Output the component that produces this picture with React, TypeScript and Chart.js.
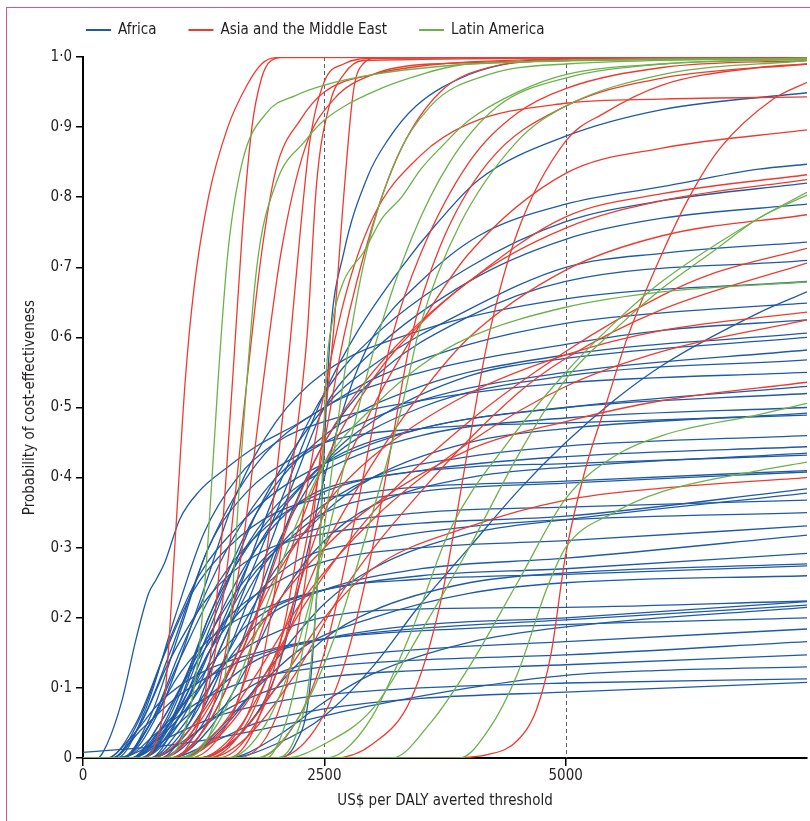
import React, { useEffect, useRef } from "react";
import { Chart, registerables } from "chart.js";
Chart.register(...registerables);

const FONT = "'Liberation Sans Narrow', 'DejaVu Sans Condensed', 'Noto Sans', sans-serif";

const xTicks = [0, 2500, 5000];
const xMax = 7500;
const referenceLines = [2500, 5000];
const legendLabels = ["Africa", "Asia and the Middle East", "Latin America"];
const regionColors = ["#1f5aa6", "#ee3b2f", "#6cb24a"];
const xTitle = "US$ per DALY averted threshold";
const yTitle = "Probability of cost-effectiveness";

// Africa curves: [threshold, probability]
const africa: number[][][] = [
  [[2000,0],[2200,0.02],[2350,0.1],[2450,0.3],[2560,0.6],[2700,0.72],[2950,0.83],[3150,0.88],[3450,0.93],[4000,0.975],[4500,0.993],[5000,0.998],[7500,1.0]],
  [[300,0],[800,0.03],[1300,0.12],[1700,0.25],[2000,0.35],[2500,0.52],[2850,0.61],[3300,0.7],[3650,0.76],[4100,0.825],[5000,0.887],[6000,0.925],[7500,0.949]],
  [[1200,0],[1600,0.03],[2000,0.12],[2300,0.28],[2500,0.4],[2750,0.52],[3000,0.6],[3500,0.68],[4100,0.745],[5000,0.79],[6000,0.815],[7000,0.84],[7500,0.847]],
  [[600,0],[1000,0.05],[1500,0.2],[2000,0.38],[2500,0.52],[3000,0.6],[4000,0.7],[5000,0.765],[6000,0.795],[7500,0.82]],
  [[700,0],[1200,0.06],[1700,0.22],[2200,0.4],[2500,0.5],[3000,0.58],[4000,0.68],[5000,0.74],[6000,0.77],[7500,0.79]],
  [[500,0],[900,0.05],[1300,0.18],[1800,0.35],[2500,0.5],[3000,0.56],[4000,0.64],[5000,0.7],[6000,0.72],[7500,0.736]],
  [[1500,0],[2000,0.02],[2500,0.06],[3000,0.13],[3500,0.22],[4000,0.3],[4500,0.38],[5000,0.45],[5500,0.51],[6000,0.56],[7000,0.635],[7500,0.665]],
  [[150,0],[250,0.02],[400,0.08],[550,0.17],[680,0.235],[760,0.255],[850,0.28],[1000,0.34],[1200,0.38],[1500,0.415],[1800,0.445],[2200,0.475],[2500,0.5],[3000,0.54],[4000,0.59],[5000,0.62],[6000,0.635],[7500,0.649]],
  [[300,0],[600,0.05],[900,0.15],[1300,0.3],[1800,0.42],[2500,0.5],[3500,0.55],[5000,0.59],[6000,0.61],[7500,0.625]],
  [[500,0],[900,0.06],[1300,0.2],[1800,0.35],[2500,0.46],[3500,0.53],[5000,0.575],[7500,0.606]],
  [[800,0],[1200,0.04],[1600,0.15],[2000,0.3],[2500,0.42],[3000,0.48],[4000,0.545],[5000,0.57],[7500,0.6]],
  [[400,0],[700,0.05],[1000,0.15],[1500,0.3],[2000,0.4],[2500,0.45],[3500,0.51],[5000,0.55],[7500,0.582]],
  [[600,0],[1000,0.06],[1400,0.18],[1800,0.3],[2500,0.42],[3500,0.5],[5000,0.545],[7500,0.568]],
  [[300,0],[600,0.06],[900,0.17],[1200,0.26],[1600,0.33],[2000,0.38],[2500,0.42],[3500,0.47],[5000,0.5],[7500,0.53]],
  [[500,0],[800,0.04],[1200,0.16],[1600,0.28],[2000,0.36],[2500,0.41],[3500,0.46],[5000,0.485],[7500,0.5]],
  [[700,0],[1100,0.05],[1500,0.15],[2000,0.27],[2500,0.35],[3000,0.4],[4000,0.45],[5000,0.47],[7500,0.492]],
  [[400,0],[700,0.06],[1000,0.18],[1300,0.3],[1700,0.38],[2200,0.43],[2500,0.45],[3500,0.47],[5000,0.478],[7500,0.489]],
  [[400,0],[700,0.05],[1000,0.14],[1400,0.25],[1900,0.33],[2500,0.38],[3500,0.41],[5000,0.43],[7500,0.444]],
  [[900,0],[1300,0.04],[1700,0.13],[2100,0.24],[2500,0.31],[3000,0.36],[4000,0.4],[5000,0.415],[7500,0.435]],
  [[600,0],[1000,0.07],[1400,0.2],[1800,0.3],[2300,0.37],[3000,0.4],[4000,0.415],[5000,0.42],[7500,0.432]],
  [[600,0],[900,0.05],[1300,0.15],[1700,0.25],[2200,0.32],[2500,0.35],[3500,0.38],[5000,0.392],[7500,0.408]],
  [[300,0],[600,0.05],[900,0.14],[1300,0.23],[1800,0.29],[2500,0.32],[3500,0.335],[5000,0.345],[7500,0.384]],
  [[1000,0],[1500,0.05],[2000,0.14],[2500,0.22],[3000,0.27],[4000,0.32],[5000,0.34],[7500,0.378]],
  [[500,0],[800,0.05],[1200,0.15],[1600,0.24],[2000,0.3],[2500,0.33],[3500,0.35],[5000,0.358],[7500,0.368]],
  [[500,0],[800,0.05],[1100,0.12],[1500,0.2],[2000,0.25],[2500,0.28],[3500,0.3],[5000,0.31],[7500,0.331]],
  [[700,0],[1000,0.04],[1400,0.12],[1800,0.19],[2500,0.24],[3500,0.27],[5000,0.285],[7500,0.318]],
  [[400,0],[700,0.05],[1000,0.12],[1400,0.18],[2000,0.22],[2500,0.24],[3500,0.26],[5000,0.27],[7500,0.292]],
  [[1200,0],[1600,0.03],[2000,0.1],[2500,0.17],[3000,0.21],[4000,0.25],[5000,0.264],[7500,0.277]],
  [[500,0],[900,0.05],[1300,0.13],[1800,0.2],[2500,0.24],[3500,0.255],[5000,0.262],[7500,0.274]],
  [[600,0],[1000,0.05],[1400,0.1],[1800,0.14],[2500,0.17],[3500,0.19],[5000,0.2],[7500,0.223]],
  [[300,0],[600,0.04],[1000,0.09],[1500,0.13],[2000,0.155],[2500,0.17],[3500,0.185],[5000,0.197],[7500,0.218]],
  [[1500,0],[2000,0.03],[2500,0.08],[3000,0.12],[4000,0.165],[5000,0.187],[7500,0.215]],
  [[800,0],[1200,0.04],[1600,0.09],[2000,0.12],[2500,0.14],[3500,0.155],[5000,0.166],[7500,0.184]],
  [[400,0],[800,0.04],[1200,0.08],[1700,0.11],[2500,0.13],[3500,0.14],[5000,0.147],[7500,0.166]],
  [[700,0],[1100,0.03],[1500,0.07],[2000,0.1],[2500,0.115],[3500,0.125],[5000,0.133],[7500,0.147]],
  [[0,0.008],[1000,0.02],[2000,0.045],[3000,0.075],[4000,0.1],[5000,0.118],[6000,0.125],[7500,0.13]],
  [[500,0],[900,0.03],[1400,0.06],[2000,0.08],[2500,0.09],[3500,0.1],[5000,0.107],[7500,0.113]],
  [[900,0],[1300,0.02],[1800,0.05],[2500,0.07],[3500,0.085],[5000,0.094],[7500,0.108]],
  [[350,0],[650,0.07],[950,0.2],[1250,0.32],[1600,0.4],[2000,0.45],[2500,0.48],[3500,0.51],[5000,0.535],[7500,0.55]],
  [[600,0],[1000,0.08],[1300,0.2],[1700,0.3],[2200,0.38],[2500,0.42],[3500,0.47],[5000,0.5],[7500,0.52]],
  [[800,0],[1100,0.05],[1400,0.15],[1800,0.26],[2300,0.34],[3000,0.4],[4000,0.43],[5000,0.445],[7500,0.46]],
  [[700,0],[1000,0.06],[1300,0.15],[1700,0.22],[2200,0.28],[3000,0.31],[4000,0.33],[5000,0.34],[7500,0.35]],
  [[500,0],[800,0.04],[1200,0.1],[1600,0.15],[2200,0.19],[3000,0.21],[5000,0.215],[7500,0.224]],
  [[1000,0],[1400,0.04],[1800,0.1],[2300,0.16],[3000,0.2],[4000,0.235],[5000,0.25],[7500,0.26]],
  [[400,0],[800,0.07],[1200,0.22],[1600,0.38],[2000,0.48],[2500,0.55],[3500,0.61],[5000,0.655],[7500,0.68]],
  [[900,0],[1300,0.05],[1700,0.17],[2100,0.33],[2500,0.45],[3000,0.54],[4000,0.63],[5000,0.68],[7500,0.71]],
  [[250,0],[550,0.05],[850,0.15],[1150,0.24],[1500,0.3],[2000,0.35],[3000,0.38],[5000,0.395],[7500,0.41]],
  [[250,0],[500,0.03],[800,0.08],[1200,0.12],[1800,0.15],[2500,0.17],[4000,0.185],[7500,0.2]],
];

// Asia and the Middle East curves
const asia: number[][][] = [
  [[600,0],[750,0.02],[850,0.09],[950,0.3],[1060,0.54],[1150,0.67],[1300,0.8],[1500,0.9],[1700,0.96],[1850,0.99],[2000,0.999],[7500,1]],
  [[900,0],[1100,0.02],[1250,0.08],[1400,0.25],[1550,0.54],[1650,0.75],[1750,0.9],[1850,0.97],[1950,0.995],[2100,1],[7500,1]],
  [[800,0],[1100,0.03],[1300,0.1],[1500,0.28],[1700,0.54],[1850,0.72],[2000,0.84],[2250,0.91],[2500,0.95],[3000,0.975],[3700,0.99],[5000,0.997],[7500,1]],
  [[900,0],[1200,0.03],[1400,0.1],[1650,0.3],[1870,0.54],[2050,0.72],[2300,0.87],[2600,0.94],[3000,0.975],[3600,0.99],[7500,0.998]],
  [[1000,0],[1300,0.02],[1600,0.08],[1800,0.2],[2000,0.4],[2150,0.6],[2250,0.75],[2350,0.88],[2500,0.965],[2700,0.99],[3000,0.998],[7500,1]],
  [[1200,0],[1500,0.02],[1800,0.1],[2000,0.25],[2200,0.45],[2320,0.6],[2420,0.82],[2550,0.93],[2700,0.975],[2900,0.995],[7500,1]],
  [[1600,0],[1900,0.03],[2100,0.1],[2300,0.25],[2450,0.42],[2590,0.6],[2700,0.8],[2800,0.95],[2900,0.99],[3100,1],[7500,1]],
  [[1400,0],[1700,0.03],[2000,0.12],[2300,0.3],[2500,0.45],[2700,0.6],[3000,0.76],[3300,0.87],[3700,0.95],[4200,0.985],[5000,0.995],[7500,0.998]],
  [[1800,0],[2200,0.05],[2500,0.15],[2800,0.33],[3000,0.47],[3200,0.6],[3500,0.72],[4000,0.85],[4500,0.92],[5000,0.955],[6000,0.985],[7500,0.995]],
  [[2000,0],[2400,0.04],[2700,0.13],[3000,0.3],[3200,0.45],[3400,0.6],[3700,0.73],[4200,0.85],[5000,0.93],[6000,0.97],[7500,0.99]],
  [[2600,0],[3000,0.02],[3400,0.085],[3700,0.22],[4000,0.45],[4200,0.6],[4500,0.75],[5000,0.88],[5400,0.92],[6000,0.96],[7000,0.985],[7500,0.99]],
  [[3800,0],[4200,0.005],[4500,0.025],[4700,0.07],[4850,0.15],[5000,0.29],[5200,0.41],[5430,0.51],[5640,0.6],[6000,0.72],[6320,0.81],[6600,0.87],[7150,0.94],[7500,0.964]],
  [[1500,0],[1800,0.05],[2100,0.2],[2400,0.45],[2700,0.65],[3000,0.77],[3500,0.86],[4000,0.905],[5000,0.934],[6000,0.94],[7500,0.943]],
  [[1300,0],[1700,0.05],[2000,0.15],[2500,0.35],[3000,0.5],[3500,0.62],[4000,0.72],[5000,0.834],[6000,0.87],[7500,0.896]],
  [[1100,0],[1500,0.05],[1900,0.2],[2500,0.42],[3000,0.54],[3500,0.62],[4000,0.68],[5000,0.772],[6000,0.805],[7500,0.832]],
  [[900,0],[1300,0.05],[1700,0.17],[2200,0.36],[2500,0.45],[3000,0.55],[4000,0.68],[5000,0.756],[6000,0.795],[7500,0.825]],
  [[1200,0],[1600,0.04],[2000,0.14],[2500,0.3],[3000,0.42],[3500,0.52],[4000,0.6],[5000,0.696],[6000,0.745],[7500,0.775]],
  [[1000,0],[1400,0.03],[1800,0.1],[2300,0.22],[3000,0.35],[4000,0.48],[5000,0.58],[6000,0.66],[6500,0.69],[7500,0.727]],
  [[1300,0],[1700,0.03],[2200,0.12],[2700,0.24],[3500,0.38],[4500,0.52],[5000,0.57],[6000,0.64],[7500,0.706]],
  [[800,0],[1200,0.05],[1600,0.15],[2000,0.26],[2500,0.36],[3000,0.43],[4000,0.52],[5000,0.575],[6000,0.61],[7500,0.636]],
  [[1000,0],[1400,0.04],[1800,0.12],[2300,0.23],[3000,0.34],[4000,0.45],[5000,0.53],[6000,0.58],[7500,0.625]],
  [[700,0],[1100,0.04],[1500,0.12],[2000,0.22],[2500,0.3],[3000,0.36],[4000,0.44],[5000,0.48],[6000,0.51],[7500,0.536]],
  [[1200,0],[1600,0.03],[2000,0.1],[2500,0.2],[3000,0.27],[4000,0.33],[5000,0.368],[6000,0.385],[7500,0.4]],
];

// Latin America curves
const latin: number[][][] = [
  [[800,0],[1000,0.02],[1200,0.15],[1300,0.32],[1400,0.54],[1500,0.72],[1650,0.85],[1900,0.92],[2200,0.945],[2500,0.96],[3000,0.975],[4000,0.99],[5000,0.995],[7500,0.998]],
  [[1000,0],[1300,0.03],[1500,0.15],[1650,0.45],[1800,0.7],[2000,0.82],[2300,0.88],[2500,0.91],[3000,0.95],[3500,0.975],[4000,0.99],[7500,0.998]],
  [[1500,0],[1900,0.05],[2200,0.15],[2500,0.3],[2800,0.47],[3050,0.6],[3400,0.74],[3800,0.85],[4300,0.93],[5000,0.97],[6000,0.99],[7500,0.997]],
  [[1800,0],[2200,0.05],[2600,0.17],[3000,0.35],[3300,0.5],[3500,0.62],[3900,0.76],[4500,0.88],[5000,0.93],[6000,0.975],[7500,0.995]],
  [[2000,0],[2200,0.03],[2350,0.12],[2450,0.3],[2520,0.55],[2580,0.62],[2700,0.68],[2900,0.72],[3100,0.77],[3300,0.8],[3500,0.84],[3700,0.87],[4000,0.91],[4500,0.95],[5000,0.975],[6000,0.99],[7500,0.997]],
  [[2500,0],[2700,0.01],[3000,0.06],[3400,0.18],[3800,0.325],[4400,0.45],[5000,0.55],[5500,0.62],[6000,0.68],[7000,0.77],[7500,0.807]],
  [[2100,0],[2500,0.02],[3000,0.07],[3500,0.18],[4000,0.3],[4500,0.43],[5000,0.54],[5500,0.61],[6000,0.67],[6500,0.72],[7000,0.77],[7500,0.803]],
  [[1000,0],[1400,0.05],[1800,0.18],[2200,0.33],[2500,0.42],[3000,0.5],[3500,0.56],[4000,0.6],[5000,0.643],[6000,0.665],[7500,0.679]],
  [[3200,0],[3600,0.05],[4000,0.13],[4500,0.25],[5000,0.37],[5500,0.43],[6000,0.46],[7000,0.49],[7500,0.506]],
  [[3900,0],[4200,0.04],[4500,0.12],[4800,0.24],[5000,0.3],[5500,0.35],[6000,0.38],[7000,0.41],[7500,0.422]],
  [[1900,0],[2100,0.05],[2300,0.17],[2500,0.33],[2700,0.54],[2900,0.7],[3200,0.84],[3600,0.93],[4200,0.975],[5000,0.99],[7500,0.998]],
];

function toPoints(curve: number[][]) {
  const pts = curve.map(([x, y]) => ({ x, y }));
  if (pts[0].x > 0) pts.unshift({ x: 0, y: 0 });
  return pts;
}

function fmtY(v: number) {
  if (Math.abs(v) < 1e-9) return "0";
  return v.toFixed(1).replace(".", "\u00B7");
}

export default function App() {
  const ref = useRef<HTMLCanvasElement | null>(null);

  useEffect(() => {
    const canvas = ref.current;
    if (!canvas) return;
    const groups = [latin, asia, africa];
    const groupColors = [regionColors[2], regionColors[1], regionColors[0]];
    const datasets: any[] = [];
    groups.forEach((g, gi) => {
      g.forEach((c) => {
        datasets.push({
          data: toPoints(c),
          borderColor: groupColors[gi],
          borderWidth: 1.3,
          pointRadius: 0,
          fill: false,
          cubicInterpolationMode: "monotone",
        });
      });
    });

    const decor = {
      id: "decor",
      beforeDatasetsDraw(chart: any) {
        const { ctx, chartArea, scales } = chart;
        ctx.save();
        ctx.strokeStyle = "#56626c";
        ctx.lineWidth = 1;
        ctx.setLineDash([4, 3]);
        for (const v of referenceLines) {
          const px = Math.round(scales.x.getPixelForValue(v)) + 0.5;
          ctx.beginPath();
          ctx.moveTo(px, chartArea.top);
          ctx.lineTo(px, chartArea.bottom);
          ctx.stroke();
        }
        ctx.restore();
      },
      afterDraw(chart: any) {
        const { ctx } = chart;
        ctx.save();
        ctx.font = `15px ${FONT}`;
        ctx.textBaseline = "middle";
        ctx.fillStyle = "#231f20";
        let x = 86;
        const y = 30;
        legendLabels.forEach((label, i) => {
          ctx.strokeStyle = regionColors[i];
          ctx.lineWidth = 2;
          ctx.beginPath();
          ctx.moveTo(x, y);
          ctx.lineTo(x + 25, y);
          ctx.stroke();
          ctx.fillText(label, x + 32, y);
          x += 32 + ctx.measureText(label).width + 32;
        });
        ctx.restore();
      },
    };

    const chart = new Chart(canvas, {
      type: "line",
      data: { datasets },
      plugins: [decor],
      options: {
        animation: false,
        responsive: false,
        devicePixelRatio: 1,
        layout: { padding: { left: 0, right: 3, top: 57, bottom: 0 } },
        plugins: { legend: { display: false }, tooltip: { enabled: false } },
        scales: {
          x: {
            type: "linear",
            min: 0,
            max: xMax,
            afterFit: (s: any) => { s.height = 63; },
            afterBuildTicks: (s: any) => { s.ticks = xTicks.map((v) => ({ value: v })); },
            border: { display: true, color: "#000", width: 2 },
            grid: { drawOnChartArea: false, drawTicks: true, tickLength: 8, color: "#000", lineWidth: 1.5 },
            ticks: { color: "#231f20", font: { family: FONT, size: 15 }, padding: 1, maxRotation: 0, callback: (v: any) => String(v) },
            title: { display: true, text: xTitle, color: "#231f20", font: { family: FONT, size: 15 }, padding: { top: 0, bottom: 11 } },
          },
          y: {
            min: 0,
            max: 1,
            afterFit: (s: any) => { s.width = 83; },
            border: { display: true, color: "#000", width: 2 },
            grid: { drawOnChartArea: false, drawTicks: true, tickLength: 7, color: "#000", lineWidth: 1.5 },
            ticks: { stepSize: 0.1, color: "#231f20", font: { family: FONT, size: 15 }, padding: 4, callback: (v: any) => fmtY(Number(v)) },
            title: { display: true, text: yTitle, color: "#231f20", font: { family: FONT, size: 15 }, padding: { top: 21, bottom: 0 } },
          },
        },
      },
    });
    return () => chart.destroy();
  }, []);

  return (
    <div style={{ position: "fixed", left: 0, top: 0, width: 810, height: 821, background: "#fff", overflow: "hidden" }}>
      <canvas ref={ref} width={810} height={821} style={{ position: "absolute", left: 0, top: 0, width: 810, height: 821 }} />
      <div style={{ position: "absolute", left: 6, top: 7, width: 804, height: 814, borderTop: "1.5px solid #d9577f", borderLeft: "1.5px solid #d9577f", pointerEvents: "none" }} />
    </div>
  );
}
